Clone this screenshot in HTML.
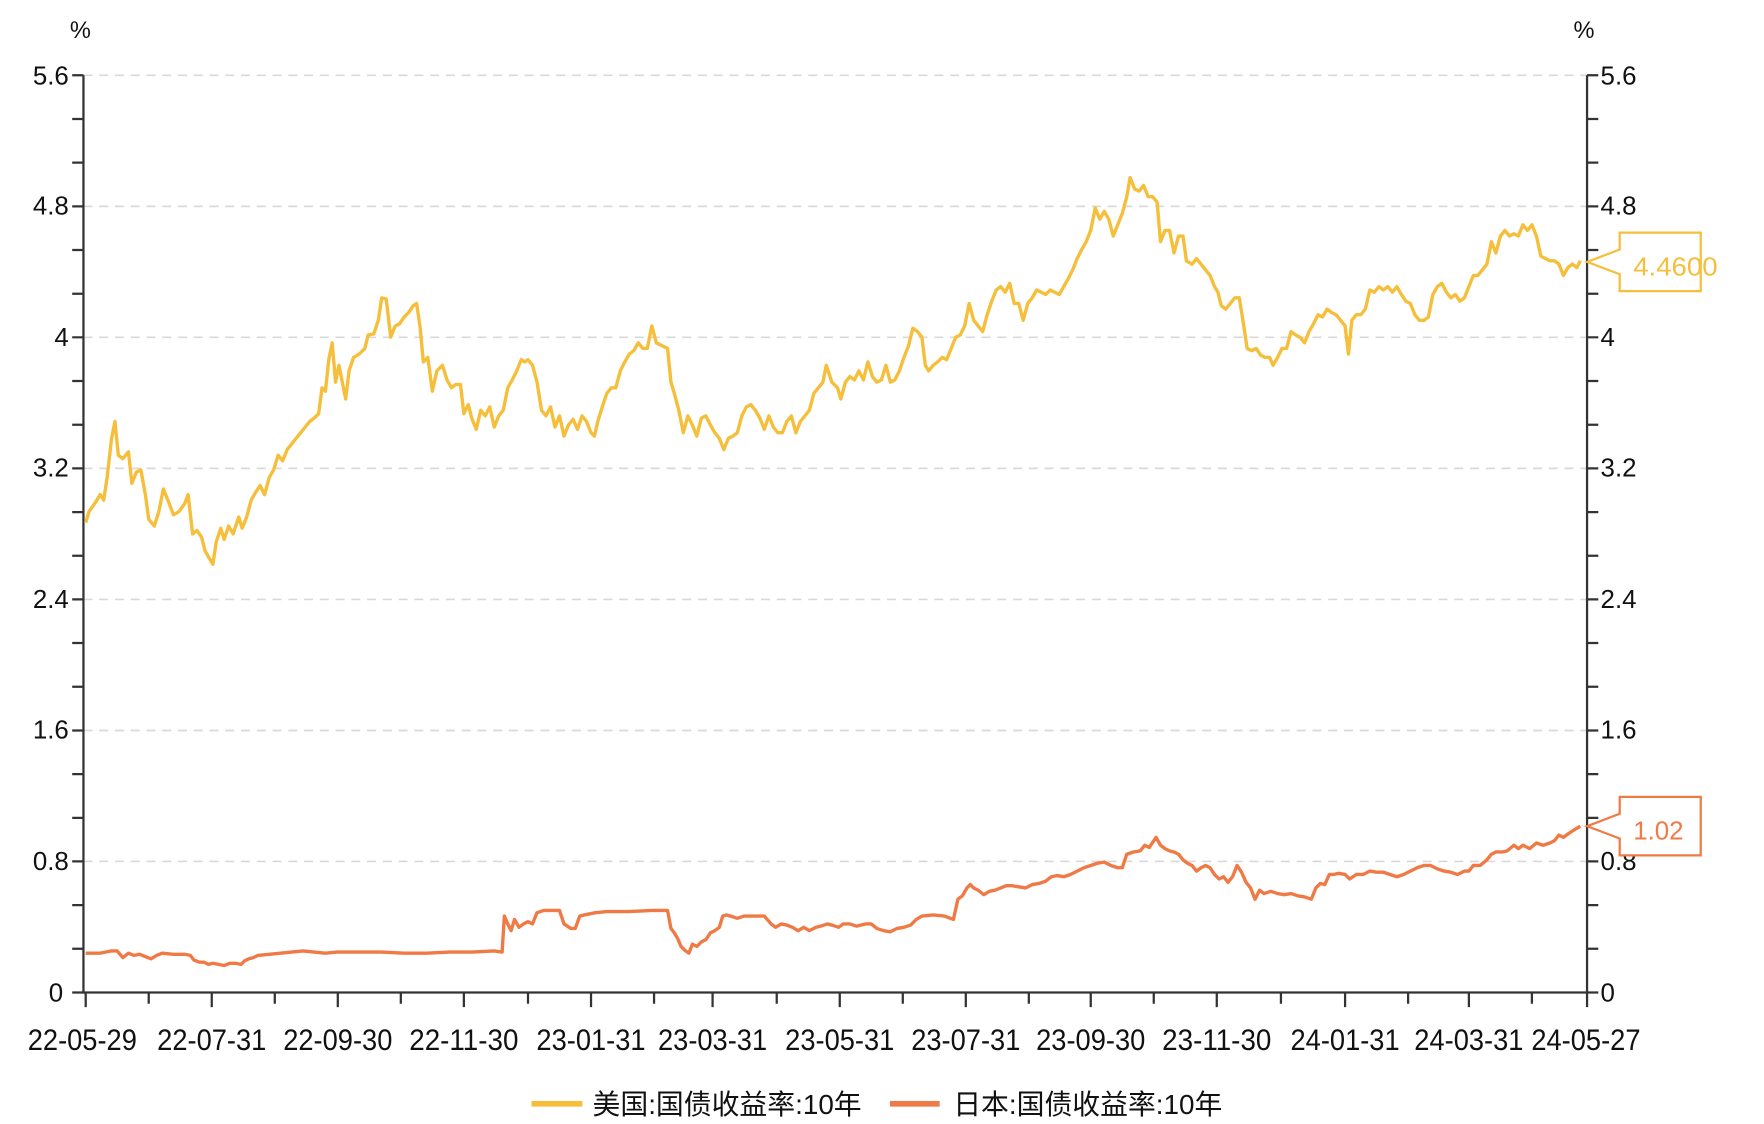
<!DOCTYPE html>
<html><head><meta charset="utf-8"><style>
html,body{margin:0;padding:0;background:#fff;}
svg{display:block;}
text{font-family:"Liberation Sans","Noto Sans CJK SC",sans-serif;fill:#111;}
</style></head><body>
<svg width="1764" height="1124" viewBox="0 0 1560 1000" preserveAspectRatio="none" xmlns="http://www.w3.org/2000/svg">
<g transform="matrix(0.9953 0 0 1 -0.85 0)">
<g stroke="#d9d9d9" stroke-width="1.5" stroke-dasharray="8,6">
<line x1="75" y1="67" x2="1411" y2="67"/><line x1="75" y1="183.6" x2="1411" y2="183.6"/><line x1="75" y1="300.1" x2="1411" y2="300.1"/><line x1="75" y1="416.7" x2="1411" y2="416.7"/><line x1="75" y1="533.3" x2="1411" y2="533.3"/><line x1="75" y1="649.9" x2="1411" y2="649.9"/><line x1="75" y1="766.4" x2="1411" y2="766.4"/>
</g>
<g stroke="#333" stroke-width="2" fill="none">
<line x1="75" y1="67" x2="75" y2="884"/><line x1="1411" y1="67" x2="1411" y2="884"/><line x1="75" y1="883" x2="1411" y2="883"/>
<path d="M65 67H75M65 183.6H75M65 300.1H75M65 416.7H75M65 533.3H75M65 649.9H75M65 766.4H75M65 883H75M65 105.9H75M65 144.7H75M65 222.4H75M65 261.3H75M65 339H75M65 377.9H75M65 455.6H75M65 494.4H75M65 572.1H75M65 611H75M65 688.7H75M65 727.6H75M65 805.3H75M65 844.1H75"/>
<path d="M1411 67H1421M1411 183.6H1421M1411 300.1H1421M1411 416.7H1421M1411 533.3H1421M1411 649.9H1421M1411 766.4H1421M1411 883H1421M1411 105.9H1421M1411 144.7H1421M1411 222.4H1421M1411 261.3H1421M1411 339H1421M1411 377.9H1421M1411 455.6H1421M1411 494.4H1421M1411 572.1H1421M1411 611H1421M1411 688.7H1421M1411 727.6H1421M1411 805.3H1421M1411 844.1H1421"/>
<path d="M77 883v13M133 883v10M189 883v13M245 883v10M301 883v13M357 883v10M413 883v13M470 883v10M526 883v13M582 883v10M634 883v13M691 883v10M747 883v13M803 883v10M859 883v13M915 883v10M970 883v13M1026 883v10M1082 883v13M1139 883v10M1196 883v13M1252 883v10M1306 883v13M1362 883v10M1411 883v13"/>
</g>
<g font-size="23" text-anchor="end">
<text x="62" y="75">5.6</text><text x="62" y="191">4.8</text><text x="62" y="308">4</text><text x="62" y="424">3.2</text><text x="62" y="541">2.4</text><text x="62" y="657">1.6</text><text x="62" y="774">0.8</text><text x="57" y="891">0</text>
</g>
<g font-size="23">
<text x="1423" y="75">5.6</text><text x="1423" y="191">4.8</text><text x="1423" y="308">4</text><text x="1423" y="424">3.2</text><text x="1423" y="541">2.4</text><text x="1423" y="657">1.6</text><text x="1423" y="774">0.8</text><text x="1423" y="891">0</text>
<text x="63" y="34" font-size="21">%</text><text x="1399" y="34" font-size="21">%</text>
</g>
<g font-size="26" text-anchor="middle">
<text x="74" y="934" textLength="97" lengthAdjust="spacingAndGlyphs">22-05-29</text><text x="189" y="934" textLength="97" lengthAdjust="spacingAndGlyphs">22-07-31</text><text x="301" y="934" textLength="97" lengthAdjust="spacingAndGlyphs">22-09-30</text><text x="413" y="934" textLength="97" lengthAdjust="spacingAndGlyphs">22-11-30</text><text x="526" y="934" textLength="97" lengthAdjust="spacingAndGlyphs">23-01-31</text><text x="634" y="934" textLength="97" lengthAdjust="spacingAndGlyphs">23-03-31</text><text x="747" y="934" textLength="97" lengthAdjust="spacingAndGlyphs">23-05-31</text><text x="859" y="934" textLength="97" lengthAdjust="spacingAndGlyphs">23-07-31</text><text x="970" y="934" textLength="97" lengthAdjust="spacingAndGlyphs">23-09-30</text><text x="1082" y="934" textLength="97" lengthAdjust="spacingAndGlyphs">23-11-30</text><text x="1196" y="934" textLength="97" lengthAdjust="spacingAndGlyphs">24-01-31</text><text x="1306" y="934" textLength="97" lengthAdjust="spacingAndGlyphs">24-03-31</text><text x="1410" y="934" textLength="97" lengthAdjust="spacingAndGlyphs">24-05-27</text>
</g>
<polyline fill="none" stroke="#f5bf3c" stroke-width="3" stroke-linejoin="round" points="77,465 80,455 85,448 90,440 93,445 96,425 100,390 103,375 106,405 110,408 115,402 118,430 122,420 126,418 130,440 133,462 138,468 142,455 146,435 150,445 155,458 160,455 165,448 168,440 172,475 176,472 180,478 183,490 187,497 190,502 193,482 197,470 200,480 204,468 208,475 213,460 216,470 220,460 224,445 228,438 232,432 236,440 240,425 244,418 248,405 252,410 256,400 260,395 264,390 268,385 272,380 276,375 280,372 284,368 287,345 290,348 293,320 296,305 299,340 302,325 305,340 308,355 311,330 315,318 320,315 325,310 328,298 333,297 337,285 340,265 344,266 348,300 352,290 356,288 360,282 364,278 368,272 371,270 374,290 377,322 381,318 385,348 389,330 394,325 398,338 402,345 406,342 410,342 413,368 417,360 420,372 424,382 428,365 432,370 436,362 440,380 444,370 448,365 452,345 456,338 460,330 464,320 467,322 470,320 474,325 478,340 482,365 486,370 490,362 494,380 498,370 502,388 506,378 510,373 514,382 518,370 522,375 526,385 529,388 532,375 536,362 540,350 544,345 548,345 552,330 556,322 560,315 564,312 568,305 572,310 576,310 580,290 584,305 590,308 594,310 597,340 600,350 604,365 608,385 612,370 616,378 620,388 624,372 628,370 632,378 636,385 640,390 644,400 648,390 652,388 656,385 660,370 664,362 668,360 672,365 676,372 680,382 684,370 688,380 692,385 696,385 700,375 704,370 708,385 712,375 716,370 720,365 724,350 728,345 732,340 735,325 740,340 745,345 748,355 752,340 756,335 760,338 764,330 768,338 772,322 776,335 780,340 784,338 788,325 792,340 796,338 800,330 804,318 808,308 812,292 816,295 820,300 823,325 826,330 830,325 834,322 838,318 842,320 846,310 850,300 854,298 858,290 862,270 866,285 870,290 874,295 878,280 882,268 886,258 890,255 894,260 898,252 902,270 906,270 910,285 914,270 918,265 922,258 926,260 930,262 934,258 938,260 942,262 946,255 950,248 954,240 958,230 962,222 966,215 970,205 974,185 978,195 982,188 986,195 990,210 994,200 998,190 1002,175 1005,158 1009,168 1013,170 1017,165 1021,175 1025,175 1029,180 1032,215 1036,205 1040,205 1044,225 1048,210 1052,210 1055,232 1060,235 1064,230 1068,235 1072,240 1076,245 1080,255 1083,260 1086,272 1090,275 1094,270 1098,265 1102,265 1106,290 1109,310 1113,312 1117,310 1121,316 1125,318 1129,318 1132,325 1136,318 1140,310 1144,310 1148,295 1152,298 1156,300 1160,305 1164,295 1168,288 1172,280 1176,282 1180,275 1184,278 1188,280 1192,285 1196,290 1199,315 1202,285 1206,280 1210,280 1214,275 1218,258 1222,260 1226,255 1230,258 1234,255 1238,260 1242,255 1246,262 1250,268 1254,270 1258,280 1262,285 1266,285 1270,282 1274,262 1278,255 1282,252 1286,260 1290,265 1294,262 1298,268 1302,265 1306,255 1310,245 1314,245 1318,240 1322,235 1326,215 1330,225 1334,210 1338,205 1342,210 1346,208 1350,210 1354,200 1358,205 1362,200 1366,210 1370,228 1374,230 1378,232 1382,232 1386,235 1390,245 1394,238 1398,235 1402,238 1405,232"/>
<polyline fill="none" stroke="#ef7a45" stroke-width="3" stroke-linejoin="round" points="77,848 90,848 100,846 105,846 110,852 115,848 120,850 125,849 130,851 135,853 140,850 145,848 155,849 165,849 170,850 173,854 178,856 182,856 186,858 190,857 195,858 200,859 205,857 210,857 215,858 218,855 222,853 226,852 230,850 240,849 250,848 260,847 270,846 280,847 290,848 300,847 310,847 320,847 340,847 360,848 380,848 400,847 420,847 440,846 447,847 449,815 452,822 455,828 458,818 462,825 466,822 470,820 474,822 478,812 484,810 490,810 498,810 502,822 508,826 512,826 516,815 520,814 530,812 540,811 560,811 580,810 594,810 597,826 600,830 603,835 606,842 610,846 613,848 616,840 620,842 624,838 628,836 632,830 636,828 640,825 643,815 646,814 650,815 656,817 662,815 670,815 680,815 686,822 690,825 695,822 700,823 705,825 710,828 715,825 720,828 726,825 730,824 736,822 740,823 746,825 750,822 756,822 762,824 770,822 775,822 780,826 786,828 792,829 798,826 804,825 810,823 815,818 820,815 830,814 840,815 848,818 852,800 856,797 860,790 863,787 866,790 870,792 875,796 880,793 885,792 890,790 895,788 900,788 906,789 912,790 918,787 924,786 930,784 935,780 940,779 946,780 952,778 958,775 964,772 970,770 976,768 982,767 988,770 994,772 998,772 1002,760 1008,758 1014,757 1018,752 1022,754 1026,748 1028,745 1032,752 1036,755 1040,757 1044,758 1048,760 1052,765 1056,768 1060,770 1064,775 1068,772 1072,770 1076,772 1080,778 1084,782 1088,780 1092,785 1096,780 1100,770 1104,776 1108,785 1112,790 1116,800 1120,792 1124,795 1130,793 1136,795 1142,796 1148,795 1154,797 1160,798 1166,800 1170,790 1174,786 1178,787 1182,778 1186,778 1190,777 1196,778 1200,782 1206,778 1212,778 1218,775 1224,776 1230,776 1236,778 1242,780 1248,778 1254,775 1260,772 1266,770 1272,770 1278,773 1284,775 1290,776 1296,778 1302,775 1306,775 1310,770 1316,770 1322,765 1326,760 1330,758 1336,758 1340,757 1346,752 1350,755 1354,752 1360,755 1366,750 1372,752 1378,750 1382,748 1386,743 1390,745 1394,742 1400,738 1405,735"/>
<path d="M1411 233L1440 222V207H1512V259H1440V244Z" fill="#fff" stroke="#f5bf3c" stroke-width="2"/>
<text x="1452" y="245" font-size="23" textLength="75" lengthAdjust="spacingAndGlyphs" style="fill:#f5bf3c">4.4600</text>
<path d="M1411 735L1440 724V709H1512V761H1440V746Z" fill="#fff" stroke="#ef7a45" stroke-width="2"/>
<text x="1452" y="747" font-size="23" style="fill:#ef7a45">1.02</text>
</g>
<line x1="470" y1="982" x2="515" y2="982" stroke="#f5bf3c" stroke-width="5"/>
<text x="524" y="991" font-size="25" textLength="238" lengthAdjust="spacingAndGlyphs">美国:国债收益率:10年</text>
<line x1="787" y1="982" x2="831" y2="982" stroke="#ef7a45" stroke-width="5"/>
<text x="843" y="991" font-size="25" textLength="238" lengthAdjust="spacingAndGlyphs">日本:国债收益率:10年</text>
</svg>
</body></html>
